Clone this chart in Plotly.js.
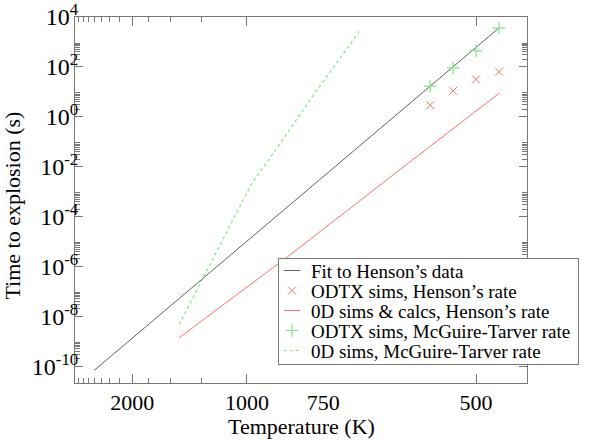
<!DOCTYPE html>
<html>
<head>
<meta charset="utf-8">
<script src="https://cdn.plot.ly/plotly-3.0.1.min.js"></script>
<style>
  html, body { margin: 0; padding: 0; background: #ffffff; }
  #chart { width: 599px; height: 440px; }
</style>
</head>
<body>
<div id="chart"></div>
<script>
// Time to explosion versus temperature, on a reciprocal-temperature (Arrhenius) axis.
// Temperatures are in kelvin, times in seconds.

// Fit to Henson's data
const fitTemp = [3000, 476.2];
const fitTime = [6.8e-11, 3630];

// ODTX simulations with Henson's rate
const odtxHensonTemp = [555.6, 526.3, 500.0, 476.2];
const odtxHensonTime = [2.9, 11, 31.4, 64];

// 0D simulations & calculations with Henson's rate
const zeroDHensonTemp = [1420, 841, 609, 476.2];
const zeroDHensonTime = [1.38e-9, 2.95e-6, 5.0e-3, 8.7];

// ODTX simulations with the McGuire-Tarver rate
const odtxMTTemp = [555.6, 526.3, 500.0, 476.2];
const odtxMTTime = [17, 91, 436, 3600];

// 0D simulations with the McGuire-Tarver rate
const zeroDMTTemp = [1420, 1250, 1111, 1020, 980, 909, 766, 669];
const zeroDMTTime = [4.68e-9, 2.34e-7, 1.51e-5, 4.27e-4, 2.09e-3, 0.0219, 11.7, 2950];

// Axis ticks
const xLabelTemps = [2000, 1000, 750, 500];
const xMajorTickTemps = [2000, 1000, 500];
const xMinorTickTemps = [4000, 3750, 3500, 3250, 3000, 2750, 2500, 2250, 1750, 1500, 1250];
const yTickExponents = [-10, -8, -6, -4, -2, 0, 2, 4];

const inv = T => 1000 / T;           // plotted abscissa: 1000/T
const SERIF = 'Liberation Serif, Times New Roman, serif';
const RED = 'rgb(240,115,115)';
const GREEN = 'rgb(130,228,130)';
const GREY = 'rgb(95,95,95)';
const FRAME = 'rgb(120,120,120)';

const yTickVals = yTickExponents.map(p => Math.pow(10, p));
const yTickText = yTickExponents.map(p => '10<sup>' + (p < 0 ? '-' + (-p) : p) + '</sup>');
const yMinorVals = [];
for (const p of yTickExponents.concat([-12])) {
  for (let k = 2; k <= 9; k++) yMinorVals.push(k * Math.pow(10, p));
}

const traces = [
  {
    name: 'Fit to Henson\u2019s data',
    x: fitTemp.map(inv), y: fitTime,
    mode: 'lines', line: {color: GREY, width: 1}
  },
  {
    name: 'ODTX sims, Henson\u2019s rate',
    x: odtxHensonTemp.map(inv), y: odtxHensonTime,
    mode: 'markers',
    marker: {symbol: 'x-thin-open', size: 8, color: RED, line: {color: RED, width: 1}}
  },
  {
    name: '0D sims &amp; calcs, Henson\u2019s rate',
    x: zeroDHensonTemp.map(inv), y: zeroDHensonTime,
    mode: 'lines', line: {color: RED, width: 1}
  },
  {
    name: 'ODTX sims, McGuire-Tarver rate',
    x: odtxMTTemp.map(inv), y: odtxMTTime,
    mode: 'markers',
    marker: {symbol: 'cross-thin-open', size: 9, color: GREEN, line: {color: GREEN, width: 1.2}}
  },
  {
    name: '0D sims, McGuire-Tarver rate',
    x: zeroDMTTemp.map(inv), y: zeroDMTTime,
    mode: 'lines', line: {color: GREEN, width: 1.2, dash: 'dot'}
  },
  // carriers for the bottom and top tick-mark axes
  {x: [], y: [], xaxis: 'x2', yaxis: 'y', mode: 'lines', showlegend: false, hoverinfo: 'skip'},
  {x: [], y: [], xaxis: 'x3', yaxis: 'y', mode: 'lines', showlegend: false, hoverinfo: 'skip'}
];

const xRange = [0.25, 2.2222];

// tick marks only (labels live on the main x axis, which has none at 750 K)
function tickAxis(side) {
  return {
    overlaying: 'x', anchor: 'y', side: side,
    range: xRange, showgrid: false, zeroline: false, showline: false,
    tickmode: 'array', tickvals: xMajorTickTemps.map(inv),
    ticks: 'inside', ticklen: 9, tickcolor: FRAME, tickwidth: 1,
    showticklabels: false,
    minor: {tickmode: 'array', tickvals: xMinorTickTemps.map(inv), ticks: 'inside', ticklen: 5, tickcolor: FRAME, tickwidth: 1}
  };
}

const layout = {
  width: 599, height: 440,
  margin: {l: 75, r: 72, t: 17, b: 57},
  paper_bgcolor: '#ffffff', plot_bgcolor: '#ffffff',
  font: {family: SERIF, color: '#000000', size: 22},
  showlegend: true,
  legend: {
    x: 0.449, y: 0.3415, xanchor: 'left', yanchor: 'top',
    bgcolor: '#ffffff', bordercolor: FRAME, borderwidth: 1,
    font: {family: SERIF, size: 19, color: '#000000'},
    tracegroupgap: 0
  },
  xaxis: {
    range: xRange, showgrid: false, zeroline: false,
    showline: true, linecolor: FRAME, linewidth: 1, mirror: true,
    tickmode: 'array', tickvals: xLabelTemps.map(inv), ticktext: xLabelTemps.map(String),
    ticks: '', ticklabelstandoff: 0, tickfont: {family: SERIF, size: 22, color: '#000'}
  },
  xaxis2: tickAxis('bottom'),
  xaxis3: tickAxis('top'),
  yaxis: {
    type: 'log', range: [-10.67, 4], showgrid: false, zeroline: false,
    showline: true, linecolor: FRAME, linewidth: 1, mirror: 'ticks',
    tickmode: 'array', tickvals: yTickVals, ticktext: yTickText,
    ticks: 'inside', ticklen: 8, tickcolor: FRAME, tickwidth: 1,
    ticklabelstandoff: -9,
    tickfont: {family: SERIF, size: 24, color: '#000'},
    minor: {tickmode: 'array', tickvals: yMinorVals, ticks: 'inside', ticklen: 5, tickcolor: FRAME, tickwidth: 1}
  },
  annotations: [
    {
      text: 'Temperature (K)', xref: 'paper', yref: 'paper',
      x: 0.5, y: -0.1175, xanchor: 'center', yanchor: 'middle', showarrow: false,
      font: {family: SERIF, size: 22, color: '#000'}
    },
    {
      text: 'Time to explosion (s)', xref: 'paper', yref: 'paper',
      x: -0.1383, y: 0.486, xanchor: 'center', yanchor: 'middle', showarrow: false,
      textangle: -90, font: {family: SERIF, size: 22, color: '#000'}
    }
  ]
};

// Tighten the legend rows and shorten the key samples after Plotly has drawn them.
function compactLegend(gd) {
  const legend = gd.querySelector('.legend');
  if (!legend) return;
  const items = Array.from(legend.querySelectorAll('.traces'));
  if (!items.length) return;
  const parse = el => {
    const m = /translate\(\s*([-\d.e]+)[ ,]+([-\d.e]+)\s*\)/.exec(el.getAttribute('transform') || '');
    return m ? [parseFloat(m[1]), parseFloat(m[2])] : [0, 0];
  };
  const top = 12.5, step = 20;
  items.forEach((el, i) => {
    const [x] = parse(el);
    el.setAttribute('transform', 'translate(' + x + ',' + (top + i * step) + ')');
    el.querySelectorAll('path.js-line').forEach(p => p.setAttribute('d', 'M5,0h16'));
    el.querySelectorAll('path.scatterpts').forEach(p => p.setAttribute('transform', 'translate(13,0)'));
    el.querySelectorAll('text.legendtext').forEach(t => t.setAttribute('x', 32));
  });
  const bg = legend.querySelector('rect.bg');
  if (bg) {
    const w = parseFloat(bg.getAttribute('width'));
    bg.setAttribute('height', top + (items.length - 1) * step + 13);
    bg.setAttribute('width', w - 6);
  }
}

Plotly.newPlot('chart', traces, layout, {displayModeBar: false, staticPlot: true})
  .then(compactLegend);
</script>
</body>
</html>
